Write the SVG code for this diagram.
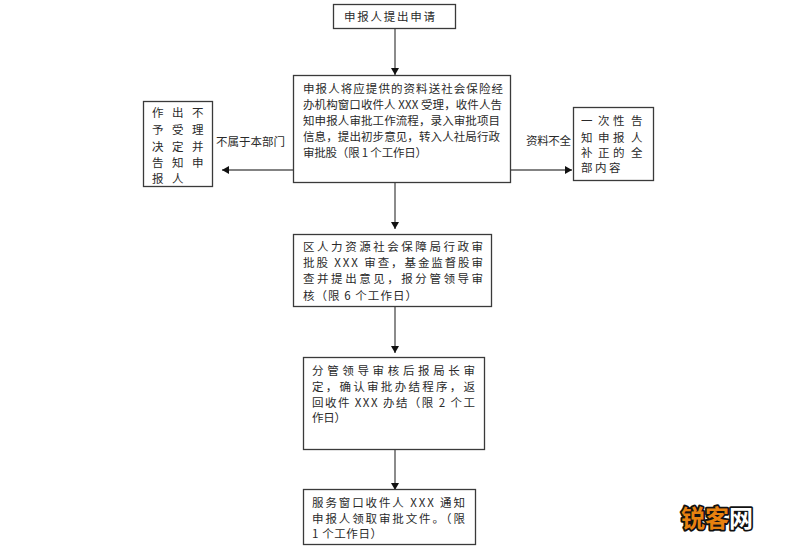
<svg xmlns="http://www.w3.org/2000/svg" width="800" height="550" viewBox="0 0 800 550">
<style>
text{font-family:"Noto Sans CJK SC","Liberation Sans",sans-serif;font-size:11.5px;fill:#2a2a2a}
.box{fill:#fff;stroke:#3a3a3a;stroke-width:1.3}
.link{fill:none;stroke:#5a5a5a;stroke-width:1.4}
.mark{font-size:24px;font-weight:700;stroke:#111;stroke-width:3.5px;paint-order:stroke;stroke-linejoin:round}
</style>
<defs>
<marker id="arrow" markerUnits="userSpaceOnUse" markerWidth="8" markerHeight="8" refX="7" refY="4" orient="auto">
<path d="M0,0 L7,4 L0,8 Z" fill="#111"/>
</marker>
</defs>
<rect width="800" height="550" fill="#fff"/>
<g id="connectors">
<line class="link" x1="395" y1="28" x2="395" y2="75" marker-end="url(#arrow)"/>
<line class="link" x1="293" y1="170" x2="222" y2="170" marker-end="url(#arrow)"/>
<line class="link" x1="507" y1="170" x2="572" y2="170" marker-end="url(#arrow)"/>
<line class="link" x1="395" y1="183" x2="395" y2="229" marker-end="url(#arrow)"/>
<line class="link" x1="395" y1="304" x2="395" y2="353" marker-end="url(#arrow)"/>
<line class="link" x1="395" y1="445" x2="395" y2="490" marker-end="url(#arrow)"/>
<text x="216" y="146" textLength="69">不属于本部门</text>
<text x="526" y="145" textLength="45">资料不全</text>
</g>
<g id="node-apply">
<rect class="box" x="333.500" y="4.500" width="122" height="24"/>
<text x="344" y="21" textLength="91">申报人提出申请</text>
</g>
<g id="node-receive">
<rect class="box" x="293.500" y="75.500" width="217" height="107"/>
<text x="303" y="92.500" textLength="200">申报人将应提供的资料送社会保险经</text>
<text x="303" y="108.500" textLength="199">办机构窗口收件人 XXX 受理，收件人告</text>
<text x="303" y="124.500" textLength="197">知申报人审批工作流程，录入审批项目</text>
<text x="303" y="140.500" textLength="197">信息，提出初步意见，转入人社局行政</text>
<text x="303" y="156.500" textLength="124">审批股（限 1 个工作日）</text>
</g>
<g id="node-reject">
<rect class="box" x="143.500" y="101.500" width="69" height="85"/>
<text x="152 172 192" y="117">作出不</text>
<text x="152 172 192" y="134">予受理</text>
<text x="152 172 192" y="151">决定并</text>
<text x="152 172 192" y="167">告知申</text>
<text x="152 172" y="183">报人</text>
</g>
<g id="node-notify">
<rect class="box" x="573.500" y="107.500" width="80" height="73"/>
<text x="581 598 613 631" y="124.500">一次性告</text>
<text x="581 598 613 631" y="141.500">知申报人</text>
<text x="581 598 613 631" y="156.500">补正的全</text>
<text x="581 595 609" y="171.500">部内容</text>
</g>
<g id="node-review">
<rect class="box" x="293.500" y="234.500" width="198" height="72"/>
<text x="303" y="250.500" textLength="180">区人力资源社会保障局行政审</text>
<text x="303" y="266.500" textLength="180">批股 XXX 审查，基金监督股审</text>
<text x="303" y="282.500" textLength="180">查并提出意见，报分管领导审</text>
<text x="303" y="299.500" textLength="114">核（限 6 个工作日）</text>
</g>
<g id="node-approve">
<rect class="box" x="303.500" y="357.500" width="181" height="92"/>
<text x="312" y="374.500" textLength="163">分管领导审核后报局长审</text>
<text x="312" y="390.500" textLength="163">定，确认审批办结程序，返</text>
<text x="312" y="406.500" textLength="163">回收件 XXX 办结（限 2 个工</text>
<text x="312" y="421.500" textLength="34">作日）</text>
</g>
<g id="node-finish">
<rect class="box" x="303.500" y="489.500" width="172" height="55"/>
<text x="312" y="506.500" textLength="153">服务窗口收件人 XXX 通知</text>
<text x="312" y="522.500" textLength="153">申报人领取审批文件。（限</text>
<text x="312" y="537.500" textLength="70">1 个工作日）</text>
</g>
<g id="watermark">
<text class="mark" x="681" y="527" style="fill:#e8810f">锐客</text>
<text class="mark" x="729" y="527" style="fill:#fff">网</text>
</g>
</svg>
